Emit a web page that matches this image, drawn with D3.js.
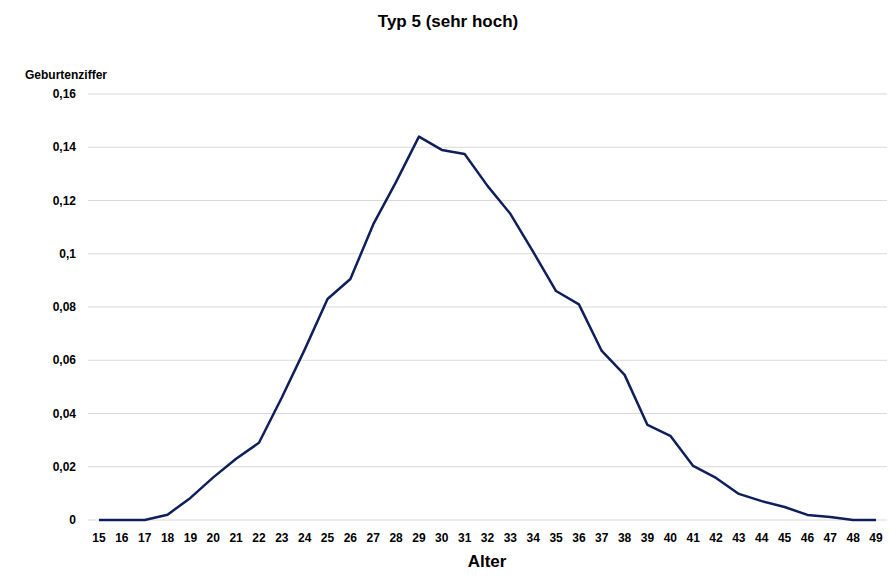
<!DOCTYPE html>
<html><head><meta charset="utf-8">
<script src="https://cdn.jsdelivr.net/npm/d3@7"></script>
<style>body{margin:0;background:#fff}text{font-family:"Liberation Sans",Arial,sans-serif;font-weight:bold}</style>
</head><body><svg id="c" width="896" height="578"></svg>
<script>
const ages = d3.range(15, 50);
const rates = [0,0,0,0.002,0.0083,0.016,0.023,0.029,0.046,0.064,0.083,0.0905,0.111,0.127,0.144,0.139,0.1375,0.1255,0.115,0.1007,0.086,0.081,0.0635,0.0545,0.0357,0.0316,0.0203,0.0158,0.0098,0.0071,0.0049,0.0019,0.0011,0,0];
const yTicks = [0,0.02,0.04,0.06,0.08,0.1,0.12,0.14,0.16];
const fmt = v => String(v).replace('.', ',');
const svg = d3.select('#c');
const x = d3.scalePoint().domain(ages).range([99, 876]);
const y = d3.scaleLinear().domain([0, 0.16]).range([520, 94]);
svg.append('g').selectAll('line').data(yTicks).join('line')
  .attr('x1', 88).attr('x2', 887).attr('y1', d => y(d)).attr('y2', d => y(d))
  .attr('stroke', '#d9d9d9').attr('stroke-width', 1);
svg.append('g').selectAll('text').data(yTicks).join('text')
  .attr('x', 76).attr('y', d => y(d) + 4).attr('text-anchor', 'end').attr('font-size', 12).text(fmt);
svg.append('g').selectAll('text').data(ages).join('text')
  .attr('x', d => x(d)).attr('y', 542).attr('text-anchor', 'middle').attr('font-size', 12).text(d => d);
svg.append('path').datum(rates)
  .attr('d', d3.line().x((d, i) => x(ages[i])).y(d => y(d)))
  .attr('fill', 'none').attr('stroke', '#0e1f5b').attr('stroke-width', 2.5).attr('stroke-linejoin', 'round');
svg.append('text').attr('x', 448).attr('y', 27).attr('text-anchor', 'middle').attr('font-size', 17).text('Typ 5 (sehr hoch)');
svg.append('text').attr('x', 25).attr('y', 79).attr('font-size', 12).text('Geburtenziffer');
svg.append('text').attr('x', 487).attr('y', 567).attr('text-anchor', 'middle').attr('font-size', 17).text('Alter');
</script></body></html>
